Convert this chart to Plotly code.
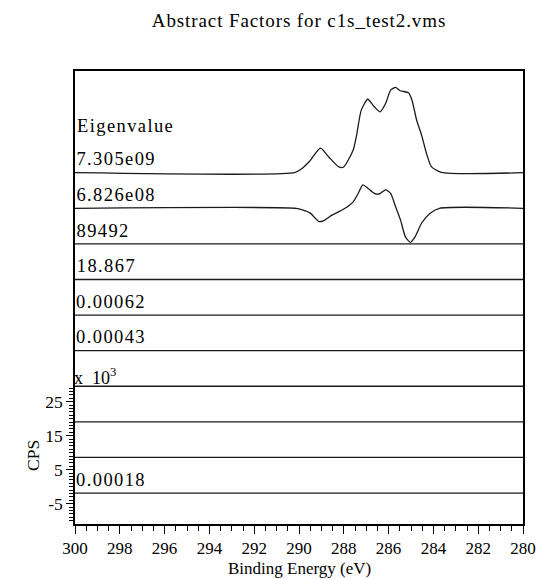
import plotly.graph_objects as go

# Binding energy window (eV), drawn from high to low
energy_range = [300, 280]

# Abstract factor 1 (largest eigenvalue): CPS x 10^3 above its baseline
f1_energy = [300.0, 290.2, 289.91, 289.55, 289.04, 288.68, 288.24, 288.02, 287.58,
             287.44, 287.22, 286.93, 286.64, 286.38, 286.13, 285.91, 285.69, 285.48,
             285.11, 284.96, 284.75, 284.53, 284.31, 284.09, 283.65, 280.0]
f1_cps = [0, 0, 1.0, 3.2, 7.2, 4.7, 1.8, 1.6, 6.7,
          10.6, 18.4, 21.6, 19.4, 17.9, 20.4, 24.3, 25.1, 24.1,
          23.5, 21.4, 15.5, 11.1, 5.7, 1.8, 0.1, 0]

# Abstract factor 2
f2_energy = [300.0, 290.13, 289.84, 289.48, 289.11, 288.89, 288.53, 288.02, 287.58,
             287.37, 287.15, 286.93, 286.64, 286.42, 286.13, 285.91, 285.69, 285.47,
             285.25, 285.03, 284.82, 284.53, 284.16, 283.73, 280.0]
f2_cps = [0, 0, -0.5, -1.5, -3.9, -3.6, -2.0, -0.3, 1.9,
          4.2, 6.9, 5.9, 4.4, 4.2, 5.4, 4.4, 0.5, -3.4,
          -8.4, -10.0, -8.4, -4.4, -1.5, 0, 0]

# Factors 3-10 are flat across the window
flat_energy = [300.0, 280.0]
flat_cps = [0, 0]

# Eigenvalue labels, one per factor row (top to bottom)
eigenvalues = ["7.305e09", "6.826e08", "89492", "18.867", "0.00062", "0.00043",
               None, None, None, "0.00018"]

# Vertical stacking of the factor rows (CPS x 10^3)
n_factors = 10
row_step = 10.47
bottom_row = -1.9
baselines = [bottom_row + row_step * (n_factors - 1 - i) for i in range(n_factors)]

y_range = [-11, 122.24]
y_ticks = [-5, 5, 15, 25]
y_minor = list(range(-10, 30))
x_ticks = list(range(300, 279, -2))

serif = "Liberation Serif"
ink = "#1a1a1a"
label_spacing = 1.4  # px of extra letter spacing in the eigenvalue column

fig = go.Figure()

for i, base in enumerate(baselines):
    if i == 0:
        xs, ys = f1_energy, f1_cps
    elif i == 1:
        xs, ys = f2_energy, f2_cps
    else:
        xs, ys = flat_energy, flat_cps
    fig.add_trace(go.Scatter(
        x=xs, y=[base + v for v in ys], mode="lines",
        line=dict(color=ink, width=1.3, shape="spline", smoothing=0.6),
        hoverinfo="skip", showlegend=False))

annotations = []
label_font = dict(family=serif, size=18.5, color="black")


def column_label(text, y):
    # text is centre-anchored by the browser, so the added spacing spreads
    # both ways; push it right by half of it to keep the left edge fixed
    return dict(x=300, y=y, xref="x", yref="y", text=text, showarrow=False,
                xanchor="left", yanchor="middle",
                xshift=-0.5 + 0.5 * label_spacing * len(text), font=label_font)


# Header above the eigenvalue column
annotations.append(column_label("Eigenvalue", baselines[0] + 13.7))
for base, ev in zip(baselines, eigenvalues):
    if ev is not None:
        annotations.append(column_label(ev, base + 3.9))

# Axis scale marker and titles
annotations.append(dict(x=300, y=baselines[6], xref="x", yref="y",
                        text="x\u00a0\u00a010<sup>3</sup>", showarrow=False,
                        xanchor="left", yanchor="bottom", xshift=-3, yshift=-4,
                        font=dict(family=serif, size=18, color="black")))
annotations.append(dict(x=0, y=9.0, xref="paper", yref="y", text="CPS",
                        showarrow=False, textangle=-90, xanchor="center",
                        yanchor="middle", xshift=-42,
                        font=dict(family=serif, size=17.5, color="black")))
annotations.append(dict(x=0.5, y=0, xref="paper", yref="paper",
                        text="Binding Energy (eV)", showarrow=False,
                        xanchor="center", yanchor="middle", yshift=-44,
                        font=dict(family=serif, size=17, color="black")))

fig.update_layout(
    width=548, height=579,
    margin=dict(l=75, r=16, t=71, b=55),
    paper_bgcolor="white", plot_bgcolor="white",
    title=dict(text="Abstract Factors for c1s_test2.vms", x=0.5, xref="paper",
               xanchor="center", y=1 - 20 / 579, yref="container",
               yanchor="middle", font=dict(family=serif, size=19, color="black")),
    annotations=annotations,
    xaxis=dict(range=energy_range, tickmode="array", tickvals=x_ticks,
               ticktext=[str(v) for v in x_ticks], ticks="outside", ticklen=8,
               tickwidth=1.2, tickcolor="black", showline=True, linecolor="black",
               linewidth=1.5, mirror=True, showgrid=False, zeroline=False,
               tickfont=dict(family=serif, size=17, color="black"),
               minor=dict(dtick=0.5, tick0=280, ticks="outside", ticklen=5,
                          tickwidth=1.2, tickcolor="black", showgrid=False)),
    yaxis=dict(range=y_range, tickmode="array", tickvals=y_ticks,
               ticktext=[str(v) for v in y_ticks], ticks="outside", ticklen=7,
               tickwidth=1.2, tickcolor="black", showline=True, linecolor="black",
               linewidth=1.5, mirror=True, showgrid=False, zeroline=False,
               tickfont=dict(family=serif, size=17.5, color="black"),
               minor=dict(tickmode="array", tickvals=y_minor, ticks="outside",
                          ticklen=4, tickwidth=1.2, tickcolor="black",
                          showgrid=False)),
)

# Open up the letter spacing of the title and the eigenvalue column
spacing_js = """
document.querySelectorAll('.annotation-text').forEach(function (t) {
  if (/^(Eigenvalue|[0-9.e]+)$/.test(t.textContent)) {
    t.style.letterSpacing = '%.1fpx';
  }
});
document.querySelectorAll('.gtitle').forEach(function (t) {
  t.style.letterSpacing = '0.9px';
});
""" % label_spacing

fig.write_html("out.html", post_script=spacing_js)
